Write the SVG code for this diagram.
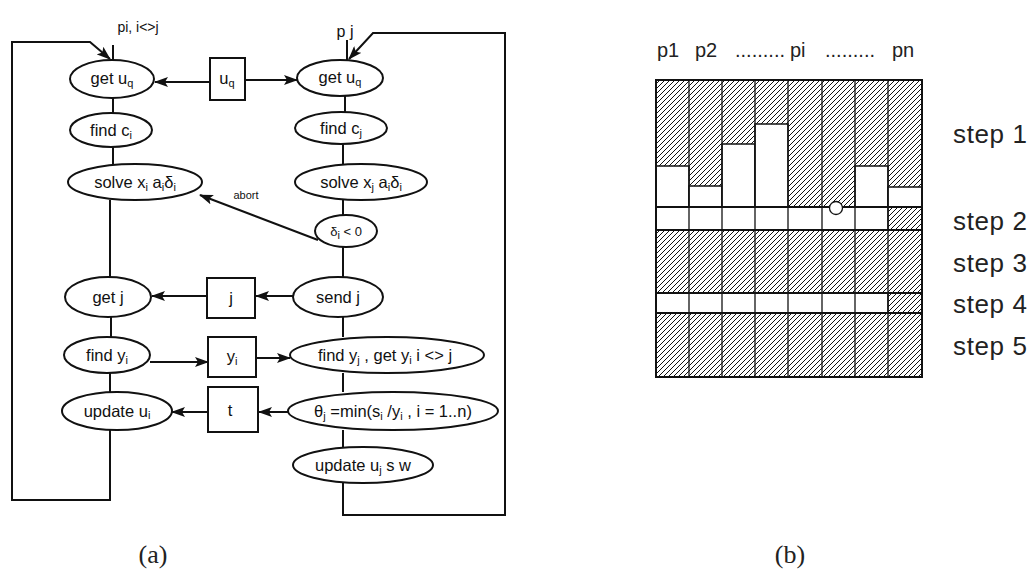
<svg xmlns="http://www.w3.org/2000/svg" width="1033" height="583" viewBox="0 0 1033 583">
<defs>
<marker id="ah" markerUnits="userSpaceOnUse" markerWidth="14" markerHeight="10" refX="13" refY="5" orient="auto"><path d="M0,0 L14,5 L0,10 L3,5 z" fill="#111"/></marker>
<pattern id="hatch" width="5" height="5" patternUnits="userSpaceOnUse"><path d="M-1,1 L1,-1 M0,5 L5,0 M4,6 L6,4" stroke="#111" stroke-width="1"/></pattern>
<style>
.n ellipse{fill:#fff;stroke:#111;stroke-width:2}
.n rect{fill:#fff;stroke:#111;stroke-width:2}
.t{font-family:"Liberation Sans",Arial,sans-serif;font-size:16.5px;fill:#111;text-anchor:middle}
.s{font-size:11px}
.c line,.c polyline{stroke:#111;stroke-width:2;fill:none}
.a{marker-end:url(#ah)}
.d{font-family:"Liberation Sans",Arial,sans-serif;fill:#222}
.g{stroke:#111;fill:none}
.cap{font-family:"Liberation Serif",serif;font-size:26px;text-anchor:middle;fill:#222}
</style>
</defs>
<rect width="1033" height="583" fill="#fff"/>

<g class="c" id="connectors">
<polyline points="110,430 110,500 12,500 12,42 90,42 110,59" class="a"/>
<line x1="113" y1="45" x2="113" y2="60"/>
<polyline points="343,483 343,515 505,515 505,33 373,33 349,59" class="a"/>
<line x1="347" y1="40" x2="347" y2="60"/>
<line x1="113" y1="98" x2="113" y2="113"/>
<line x1="113" y1="147" x2="113" y2="164"/>
<line x1="110" y1="200" x2="110" y2="277"/>
<line x1="111" y1="317" x2="111" y2="337"/>
<line x1="110" y1="373" x2="110" y2="392"/>
<line x1="345" y1="96" x2="345" y2="112"/>
<line x1="343" y1="144" x2="343" y2="164"/>
<line x1="343" y1="200" x2="343" y2="215"/>
<line x1="343" y1="247" x2="343" y2="277"/>
<line x1="343" y1="317" x2="343" y2="337"/>
<line x1="343" y1="373" x2="343" y2="392"/>
<line x1="343" y1="430" x2="343" y2="447"/>
<line x1="210" y1="82" x2="155" y2="82" class="a"/>
<line x1="245" y1="80" x2="297" y2="80" class="a"/>
<line x1="293" y1="296" x2="256" y2="296" class="a"/>
<line x1="207" y1="296" x2="152" y2="296" class="a"/>
<line x1="150" y1="362" x2="208" y2="362" class="a"/>
<line x1="256" y1="358" x2="290" y2="358" class="a"/>
<line x1="289" y1="412" x2="259" y2="412" class="a"/>
<line x1="208" y1="412" x2="172" y2="412" class="a"/>
<line x1="318" y1="240" x2="200" y2="195" class="a"/>
</g>

<text class="t" x="138" y="32" style="font-size:14px">pi, i&lt;&gt;j</text>
<text class="t" x="345" y="37" style="font-size:16px">p j</text>
<text class="t" x="246" y="199" style="font-size:11px">abort</text>

<g class="n" id="l_getuq"><ellipse cx="112" cy="79" rx="42" ry="19"/><text class="t" x="112" y="84">get  u<tspan class="s" dy="3">q</tspan></text></g>
<g class="n" id="l_findc"><ellipse cx="111" cy="130" rx="41" ry="17"/><text class="t" x="111" y="136">find  c<tspan class="s" dy="3">i</tspan></text></g>
<g class="n" id="l_solve"><ellipse cx="135" cy="182" rx="67" ry="18"/><text class="t" x="135" y="188">solve x<tspan class="s" dy="3">i</tspan><tspan dy="-3"> a</tspan><tspan class="s" dy="3">i</tspan><tspan dy="-3">δ</tspan><tspan class="s" dy="3">i</tspan></text></g>
<g class="n" id="l_getj"><ellipse cx="108" cy="297" rx="43" ry="20"/><text class="t" x="108" y="303">get  j</text></g>
<g class="n" id="l_findy"><ellipse cx="107" cy="355" rx="43" ry="18"/><text class="t" x="107" y="361">find  y<tspan class="s" dy="3">i</tspan></text></g>
<g class="n" id="l_update"><ellipse cx="117" cy="411" rx="55" ry="19"/><text class="t" x="117" y="417">update  u<tspan class="s" dy="2">i</tspan></text></g>

<g class="n" id="b_uq"><rect x="210" y="58" width="35" height="42"/><text class="t" x="227" y="84">u<tspan class="s" dy="3">q</tspan></text></g>
<g class="n" id="b_j"><rect x="207" y="278" width="48" height="40"/><text class="t" x="231" y="304">j</text></g>
<g class="n" id="b_y"><rect x="208" y="337" width="48" height="40"/><text class="t" x="232" y="362">y<tspan class="s" dy="3">i</tspan></text></g>
<g class="n" id="b_t"><rect x="208" y="387" width="50" height="45"/><text class="t" x="230" y="416">t</text></g>

<g class="n" id="r_getuq"><ellipse cx="340" cy="78" rx="43" ry="18"/><text class="t" x="340" y="83">get   u<tspan class="s" dy="3">q</tspan></text></g>
<g class="n" id="r_findc"><ellipse cx="341" cy="128" rx="46" ry="16"/><text class="t" x="341" y="134">find   c<tspan class="s" dy="3">j</tspan></text></g>
<g class="n" id="r_solve"><ellipse cx="361" cy="182" rx="66" ry="18"/><text class="t" x="361" y="188">solve x<tspan class="s" dy="3">j</tspan><tspan dy="-3"> a</tspan><tspan class="s" dy="3">i</tspan><tspan dy="-3">δ</tspan><tspan class="s" dy="3">i</tspan></text></g>
<g class="n" id="r_delta"><ellipse cx="346" cy="231" rx="31" ry="16"/><text class="t" x="346" y="236" style="font-size:13px">δ<tspan class="s" dy="3">i</tspan><tspan dy="-3"> &lt; 0</tspan></text></g>
<g class="n" id="r_send"><ellipse cx="338" cy="297" rx="45" ry="20"/><text class="t" x="338" y="303">send  j</text></g>
<g class="n" id="r_findy"><ellipse cx="387" cy="355" rx="97" ry="18"/><text class="t" x="385" y="361">find  y<tspan class="s" dy="3">j</tspan><tspan dy="-3">  , get y</tspan><tspan class="s" dy="3">i</tspan><tspan dy="-3">  i &lt;&gt; j</tspan></text></g>
<g class="n" id="r_theta"><ellipse cx="393" cy="411" rx="105" ry="19"/><text class="t" x="393" y="417">θ<tspan class="s" dy="3">j</tspan><tspan dy="-3"> =min(s</tspan><tspan class="s" dy="3">i</tspan><tspan dy="-3"> /y</tspan><tspan class="s" dy="3">i</tspan><tspan dy="-3"> ,  i = 1..n)</tspan></text></g>
<g class="n" id="r_update"><ellipse cx="363" cy="465" rx="70" ry="18"/><text class="t" x="363" y="471">update u<tspan class="s" dy="3">j</tspan><tspan dy="-3"> s  w</tspan></text></g>

<text class="cap" x="153" y="563">(a)</text>

<g id="grid">
<rect x="656" y="80" width="266" height="297" fill="url(#hatch)"/>
<g class="g" style="fill:#fff;stroke-width:1.5">
<rect x="656" y="166" width="33" height="41"/>
<rect x="689" y="186" width="33" height="21"/>
<rect x="722" y="144" width="33" height="63"/>
<rect x="755" y="124" width="33" height="83"/>
<rect x="855" y="166" width="33" height="41"/>
<rect x="888" y="187" width="34" height="20"/>
<rect x="656" y="207" width="232" height="23"/>
<rect x="656" y="293" width="232" height="20"/>
</g>
<g class="g" style="stroke-width:1.3">
<line x1="689" y1="80" x2="689" y2="377"/>
<line x1="722" y1="80" x2="722" y2="377"/>
<line x1="755" y1="80" x2="755" y2="377"/>
<line x1="788" y1="80" x2="788" y2="377"/>
<line x1="822" y1="80" x2="822" y2="377"/>
<line x1="855" y1="80" x2="855" y2="377"/>
<line x1="888" y1="80" x2="888" y2="377"/>
</g>
<g class="g" style="stroke-width:2">
<line x1="656" y1="207" x2="922" y2="207"/>
<line x1="656" y1="230" x2="922" y2="230"/>
<line x1="656" y1="293" x2="922" y2="293"/>
<line x1="656" y1="313" x2="922" y2="313"/>
<rect x="656" y="80" width="266" height="297"/>
</g>
<circle cx="836" cy="208" r="6.5" fill="#fff" stroke="#111" stroke-width="1.3"/>
</g>

<text class="d" y="57" style="font-size:20px"><tspan x="657">p1</tspan><tspan x="695">p2</tspan><tspan x="735">.........</tspan><tspan x="790">pi</tspan><tspan x="825">.........</tspan><tspan x="892">pn</tspan></text>
<text class="d" x="953" y="143" style="font-size:26px" textLength="74">step 1</text>
<text class="d" x="953" y="230" style="font-size:26px" textLength="74">step 2</text>
<text class="d" x="953" y="272" style="font-size:26px" textLength="74">step 3</text>
<text class="d" x="953" y="313" style="font-size:26px" textLength="74">step 4</text>
<text class="d" x="953" y="355" style="font-size:26px" textLength="74">step 5</text>
<text class="cap" x="790" y="563">(b)</text>
</svg>
